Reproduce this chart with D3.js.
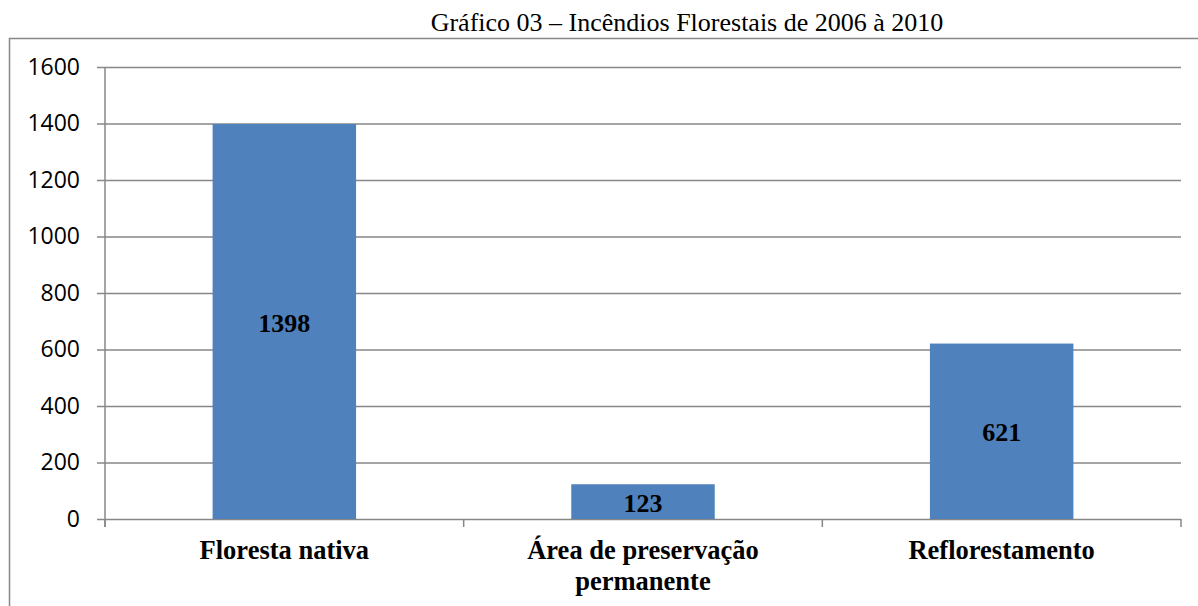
<!DOCTYPE html>
<html><head><meta charset="utf-8">
<script src="https://cdn.jsdelivr.net/npm/d3@7"></script>
<style>body{margin:0;background:#fff}svg{display:block}</style>
</head><body>
<svg id="c" width="1198" height="606"></svg>
<script>
const categories = [["Floresta nativa"], ["Área de preservação", "permanente"], ["Reflorestamento"]];
const values = [1398, 123, 621];
const yTicks = [0, 200, 400, 600, 800, 1000, 1200, 1400, 1600];
const title = "Gráfico 03 – Incêndios Florestais de 2006 à 2010";

(function(){
const svg = d3.select("#c");
const W = 1198, H = 606;
const pLeft = 105, pRight = 1181, pTop = 67, pBottom = 519;
const keys = categories.map(c => c.join(" "));
const serif = "'Liberation Serif','Times New Roman',serif";

// outer border
svg.append("path").attr("d", `M9.5,${H} L9.5,38.5 L${W},38.5`).attr("fill","none").attr("stroke","#878787").attr("stroke-width",1.5);

svg.append("text").attr("x", 687).attr("y", 31).attr("text-anchor","middle")
  .attr("font-family",serif).attr("font-size",26).attr("fill","#000").text(title);

const x = d3.scaleBand().domain(keys).range([pLeft, pRight]).padding(0);
const y = d3.scaleLinear().domain([0,1600]).range([pBottom, pTop]);

const yAxis = d3.axisLeft(y).tickValues(yTicks).tickSize(8).tickPadding(17).tickFormat(d3.format("d"));
const gy = svg.append("g").attr("transform",`translate(${pLeft},0)`).call(yAxis);
gy.select(".domain").remove();
gy.selectAll(".tick line").attr("stroke","#878787").attr("stroke-width",1.5).attr("x2", pRight-pLeft).attr("x1",-8);
gy.selectAll(".tick text").attr("font-family","'Open Sans','Liberation Sans',sans-serif").attr("font-size",23).attr("fill","#000");

svg.append("line").attr("x1",pLeft).attr("x2",pLeft).attr("y1",pTop).attr("y2",pBottom+8).attr("stroke","#878787").attr("stroke-width",1.5);

const bounds = keys.map(k => x(k)).concat([x(keys[keys.length-1]) + x.bandwidth()]);
svg.selectAll(".xt").data(bounds).enter().append("line")
  .attr("x1", d=>d).attr("x2", d=>d).attr("y1", pBottom).attr("y2", pBottom+8)
  .attr("stroke","#878787").attr("stroke-width",1.5);

const bw = x.bandwidth()*0.4;
svg.selectAll(".bar").data(values).enter().append("rect")
  .attr("x",(d,i)=> x(keys[i]) + (x.bandwidth()-bw)/2)
  .attr("y", d=>y(d)).attr("width", bw).attr("height", d=> y(0)-y(d))
  .attr("fill","#4F81BD");

svg.selectAll(".lbl").data(values).enter().append("text")
  .attr("x",(d,i)=> x(keys[i]) + x.bandwidth()/2)
  .attr("y", d=> (y(d)+y(0))/2 + 10)
  .attr("text-anchor","middle").attr("font-family",serif)
  .attr("font-weight","bold").attr("font-size",26).attr("fill","#000").text(d=>d);

categories.forEach((lines,i)=>{
  const t = svg.append("text").attr("text-anchor","middle")
    .attr("font-family",serif).attr("font-weight","bold")
    .attr("font-size",26.5).attr("fill","#000");
  lines.forEach((ln,j)=>{
    t.append("tspan").attr("x", x(keys[i]) + x.bandwidth()/2).attr("y", 559 + j*31).text(ln);
  });
});
})();
</script>
</body></html>
